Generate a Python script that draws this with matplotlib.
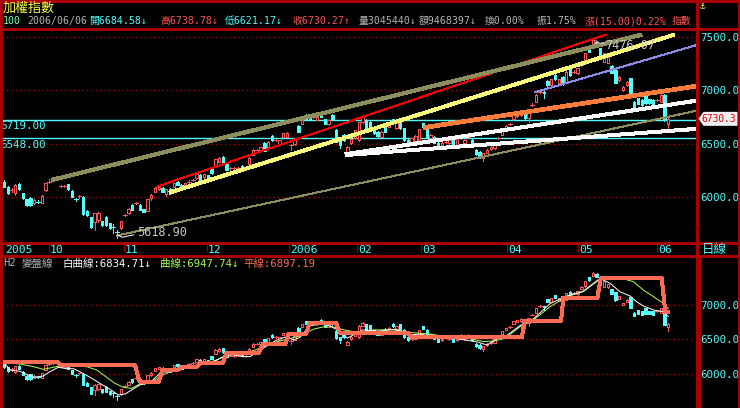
import matplotlib
matplotlib.use('Agg')
import matplotlib.pyplot as plt
from matplotlib.patches import Rectangle, Polygon
from matplotlib.collections import LineCollection

# ---------------- data ----------------
opens = [6143, 6097, 6063, 6034, 6118, 6034, 5978, 5994, 5941, 5958,
         5947, 6065, 6140, 6157, 6166, 6100, 6103, 6118, 6059, 5982,
         6008, 6003, 5872, 5810, 5770, 5785, 5776, 5816, 5754, 5724,
         5677, 5713, 5831, 5847, 5925, 5940, 5925, 5888, 5869, 5988,
         6050, 6078, 6087, 6028, 6072, 6097, 6143, 6112, 6090, 6142,
         6158, 6175, 6206, 6184, 6206, 6259, 6290, 6330, 6377, 6308,
         6267, 6267, 6273, 6290, 6267, 6308, 6393, 6438, 6439, 6508,
         6464, 6570, 6532, 6495, 6564, 6564, 6478, 6495, 6667, 6682,
         6766, 6751, 6744, 6720, 6782, 6726, 6682, 6766, 6626, 6533,
         6580, 6424, 6502, 6549, 6533, 6700, 6720, 6704, 6633, 6611,
         6564, 6657, 6657, 6726, 6642, 6720, 6642, 6533, 6502, 6508,
         6533, 6689, 6642, 6549, 6564, 6508, 6486, 6516, 6502, 6533,
         6486, 6557, 6502, 6557, 6533, 6440, 6424, 6362, 6415, 6446,
         6455, 6548, 6580, 6642, 6679, 6726, 6757, 6767, 6782, 6735,
         6859, 6891, 6984, 6985, 7088, 7047, 7140, 7063, 7125, 7078,
         7193, 7171, 7156, 7234, 7274, 7405, 7421, 7452, 7390, 7265,
         7256, 7225, 7187, 7094, 7000, 7047, 7109, 6891, 6922, 6907,
         6954, 6913, 6907, 6906, 6891, 6954, 6684.58]
highs = [6160, 6105, 6080, 6120, 6130, 6040, 5985, 6000, 5985, 5975,
         6020, 6135, 6165, 6170, 6175, 6110, 6112, 6122, 6062, 5995,
         6020, 6005, 5880, 5812, 5850, 5860, 5780, 5822, 5760, 5745,
         5690, 5780, 5845, 5895, 5930, 5955, 5932, 5892, 5985, 6025,
         6090, 6100, 6095, 6076, 6080, 6132, 6150, 6118, 6132, 6158,
         6172, 6220, 6212, 6215, 6210, 6265, 6356, 6375, 6382, 6312,
         6285, 6280, 6285, 6295, 6280, 6372, 6445, 6450, 6470, 6512,
         6522, 6575, 6545, 6536, 6600, 6605, 6495, 6552, 6675, 6725,
         6772, 6756, 6760, 6756, 6790, 6730, 6724, 6772, 6632, 6538,
         6585, 6475, 6544, 6630, 6705, 6750, 6726, 6710, 6638, 6615,
         6615, 6662, 6678, 6732, 6700, 6726, 6648, 6538, 6554, 6575,
         6638, 6694, 6648, 6585, 6570, 6512, 6512, 6530, 6538, 6538,
         6544, 6580, 6538, 6575, 6538, 6445, 6428, 6412, 6444, 6475,
         6506, 6565, 6630, 6671, 6695, 6771, 6786, 6808, 6788, 6816,
         6875, 6958, 7000, 6992, 7094, 7105, 7146, 7105, 7130, 7176,
         7198, 7185, 7207, 7270, 7348, 7412, 7476.07, 7460, 7396, 7348,
         7310, 7230, 7192, 7135, 7036, 7083, 7114, 6897, 6928, 6912,
         6960, 6918, 6912, 6920, 6958, 6960, 6738.78]
lows = [6090, 6030, 6050, 6019, 6070, 5980, 5918, 5916, 5935, 5945,
        5940, 6060, 6130, 6150, 6158, 6095, 6096, 6070, 5998, 5960,
        5995, 5835, 5820, 5710, 5692, 5770, 5730, 5732, 5700, 5667,
        5618.90, 5700, 5820, 5840, 5875, 5930, 5875, 5858, 5865, 5975,
        6045, 6070, 6045, 6010, 6030, 6092, 6108, 6068, 6085, 6130,
        6150, 6170, 6150, 6180, 6180, 6218, 6285, 6325, 6310, 6248,
        6255, 6250, 6262, 6255, 6260, 6302, 6388, 6428, 6435, 6428,
        6460, 6528, 6520, 6490, 6560, 6560, 6440, 6490, 6605, 6678,
        6720, 6715, 6735, 6715, 6745, 6678, 6676, 6715, 6512, 6455,
        6528, 6418, 6498, 6545, 6520, 6695, 6636, 6620, 6590, 6565,
        6558, 6606, 6650, 6684, 6636, 6636, 6528, 6480, 6495, 6500,
        6528, 6652, 6558, 6544, 6502, 6460, 6480, 6505, 6498, 6466,
        6480, 6545, 6498, 6548, 6480, 6397, 6366, 6340, 6410, 6440,
        6450, 6540, 6575, 6638, 6670, 6720, 6752, 6760, 6730, 6700,
        6850, 6885, 6970, 6923, 7042, 7040, 7095, 7058, 7050, 7072,
        7135, 7160, 7150, 7228, 7268, 7355, 7415, 7400, 7312, 7258,
        7250, 7156, 7064, 7088, 6994, 7040, 6955, 6840, 6865, 6855,
        6870, 6870, 6855, 6895, 6885, 6710, 6621.17]
closes = [6097, 6041, 6066, 6112, 6075, 5988, 5925, 5925, 5972, 5957,
          6013, 6128, 6143, 6159, 6165, 6103, 6104, 6078, 6003, 5981,
          6009, 5841, 5832, 5717, 5847, 5854, 5738, 5738, 5707, 5723,
          5676, 5776, 5832, 5888, 5879, 5941, 5879, 5863, 5981, 6019,
          6081, 6097, 6050, 6072, 6034, 6128, 6112, 6072, 6128, 6143,
          6159, 6215, 6153, 6212, 6184, 6221, 6352, 6368, 6315, 6252,
          6268, 6268, 6274, 6259, 6268, 6368, 6439, 6439, 6464, 6433,
          6517, 6533, 6533, 6533, 6595, 6601, 6482, 6548, 6611, 6720,
          6726, 6720, 6745, 6751, 6751, 6682, 6720, 6720, 6517, 6486,
          6533, 6470, 6539, 6626, 6700, 6745, 6642, 6626, 6595, 6570,
          6611, 6611, 6673, 6689, 6695, 6642, 6533, 6486, 6549, 6570,
          6633, 6657, 6564, 6580, 6508, 6465, 6508, 6517, 6533, 6471,
          6539, 6558, 6533, 6558, 6486, 6402, 6371, 6408, 6440, 6471,
          6502, 6549, 6626, 6667, 6680, 6767, 6782, 6804, 6735, 6813,
          6860, 6954, 6985, 6970, 7047, 7100, 7100, 7100, 7056, 7172,
          7140, 7172, 7203, 7265, 7343, 7359, 7467, 7405, 7318, 7343,
          7305, 7162, 7069, 7125, 7031, 7078, 6960, 6845, 6870, 6860,
          6876, 6876, 6860, 6907, 6954, 6715.27, 6730.27]

month_ticks = [11.9, 31.8, 53.8, 75.5, 93.5, 110.5, 133.3, 152.1, 173.0]
month_labels = ['10', '11', '12', '2006', '02', '03', '04', '05', '06']
first_label = '2005'

main_ticks = [6000, 6500, 7000, 7500]
main_minor = [5750, 6250, 6750, 7250]
sub_ticks = [6000, 6500, 7000]
h_levels = [6719.00, 6548.00]

# trend lines: (index, price) end points
olive_x, olive_y = [12.6, 169.0], [6159, 7517]
yellow_x, yellow_y = [43.8, 177.6], [6041, 7517]
red_x, red_y = [40.5, 159.4], [6097, 7517]
lav_x, lav_y = [140.7, 183.6], [6979, 7421]
orange_x, orange_y = [111.1, 183.6], [6648, 7037]
whiteA_x, whiteA_y = [90.4, 183.6], [6399, 6901]
whiteB_x, whiteB_y = [90.4, 183.6], [6392, 6637]
thin_x, thin_y = [30.0, 183.6], [5640, 6807]

# lower panel curves
flat_x = [0, 14, 15, 34.7, 35.9, 41, 42, 46, 47, 51, 52, 58, 59, 67.5, 68.5,
          74.5, 75.5, 80, 81, 88, 89, 107, 108, 137.2, 138, 147.6, 148.2,
          157.2, 158.1, 174.3, 175.2, 176]
flat_y = [6178, 6178, 6130, 6130, 5889, 5889, 6058, 6058, 6097, 6097, 6164,
          6164, 6309, 6309, 6430, 6430, 6580, 6580, 6740, 6740, 6600, 6600,
          6532, 6532, 6772, 6772, 7097, 7097, 7387, 7387, 6903, 6897.19]
white_x = [0.3, 1.6, 4.2, 7.8, 10.4, 12.2, 14.4, 16.6, 18.4, 20.1, 22.8, 25.4,
           28.1, 30.3, 32.1, 33.8, 36.0, 38.7, 41.3, 44.0, 46.6, 49.3, 51.9,
           55.5, 59.0, 60.8, 63.4, 65.2, 67.8, 69.6, 72.3, 74.9, 76.7, 78.4,
           81, 85, 88, 91, 95, 99, 104, 107, 110, 115, 120, 125, 128, 131,
           132.8, 136.7, 140.3, 144.7, 149.1, 153.5, 157.9, 160.6, 163.2,
           165.9, 167.6, 169.4, 172.1, 174.7, 176]
white_y = [6145, 6058, 6040, 5952, 5971, 6034, 6097, 6077, 6077, 6034, 5952,
           5865, 5778, 5696, 5710, 5768, 5841, 5874, 6010, 6058, 6068, 6097,
           6145, 6179, 6275, 6275, 6251, 6251, 6348, 6406, 6493, 6541, 6493,
           6531, 6700, 6730, 6650, 6520, 6640, 6620, 6650, 6560, 6580, 6530,
           6510, 6470, 6420, 6520, 6540, 6700, 6800, 7020, 7130, 7200, 7386,
           7314, 7193, 7130, 7048, 6986, 6928, 6903, 6834.71]
green_x = [0.3, 4.2, 7.8, 10.4, 13.1, 14.8, 18.4, 21.9, 24.6, 27.2, 29.4, 31.6,
           33.8, 36.0, 38.7, 41.3, 44.0, 46.6, 50.2, 53.7, 56.4, 59.0, 62.5,
           66.1, 68.7, 71.4, 74.9, 78.4, 82, 86, 90, 94, 98, 103, 108, 113,
           118, 123, 127, 130, 132.8, 136.7, 140.3, 144.7, 149.1, 153.5, 157.0,
           158.8, 164.6, 166.8, 169.4, 172.1, 174.7, 176]
green_y = [6164, 6145, 6106, 6068, 6097, 6116, 6116, 6106, 6058, 5952, 5865,
           5807, 5792, 5855, 5874, 5961, 6034, 6077, 6106, 6164, 6203, 6275,
           6300, 6338, 6396, 6454, 6502, 6551, 6650, 6700, 6640, 6600, 6640,
           6640, 6600, 6580, 6530, 6520, 6470, 6480, 6517, 6686, 6783, 6976,
           7121, 7193, 7338, 7386, 7372, 7338, 7217, 7121, 7024, 6947.74]

date_str = '2006/06/06'
volume = '3045440'
amount = '9468397'
turnover = '0.00'

# ---------------- styling ----------------
W, H = 740, 408
PX = 0.72
CYAN = '#54FCFC'; RED = '#FC5454'; YEL = '#FCFC54'; GREY = '#B4B4B4'
DRED = '#A80000'; WHITE = '#FCFCFC'; GREEN = '#A8FC54'; SALMON = '#FC6C54'
MONO = ['DejaVu Sans Mono', 'Noto Sans CJK TC']
CJK = ['Noto Sans CJK TC', 'DejaVu Sans']
BW = 0.62

fig = plt.figure(figsize=(W / 100, H / 100), dpi=100, facecolor='black')


def rect(x0, y0, x1, y1):
    return [x0 / W, 1 - y1 / H, (x1 - x0) / W, (y1 - y0) / H]


X0, DX = 4.0, 3.774


def idx_at(px):
    return (px - X0) / DX


XL = (idx_at(1.5), idx_at(697.3))


def draw_candles(a, tol):
    segs_r, segs_c = [], []
    for i, (o, h, l, c) in enumerate(zip(opens, highs, lows, closes)):
        up = c >= o
        lo_b, hi_b = min(o, c), max(o, c)
        segs = segs_r if up else segs_c
        if hi_b - lo_b < tol:
            segs.append([(i, l), (i, h)])
            segs.append([(i - 0.5, c), (i + 0.5, c)])
            continue
        if h > hi_b:
            segs.append([(i, hi_b), (i, h)])
        if l < lo_b:
            segs.append([(i, l), (i, lo_b)])
        if up:
            a.add_patch(Rectangle((i - BW / 2, lo_b), BW, hi_b - lo_b, fc='black',
                                  ec=RED, lw=PX, antialiased=False, zorder=3))
        else:
            a.add_patch(Rectangle((i - BW / 2, lo_b), BW, hi_b - lo_b, fc=CYAN,
                                  ec=CYAN, lw=PX, antialiased=False, zorder=3))
    a.add_collection(LineCollection(segs_r, colors=RED, linewidths=PX,
                                    antialiaseds=False, zorder=3))
    a.add_collection(LineCollection(segs_c, colors=CYAN, linewidths=PX,
                                    antialiaseds=False, zorder=3))


def style_axes(a, ticks, minor=None):
    a.set_facecolor('black')
    for s in a.spines.values():
        s.set_visible(False)
    a.set_xlim(XL)
    a.set_xticks([])
    a.yaxis.tick_right()
    a.set_yticks(ticks)
    a.set_yticklabels([f'{v:.1f}' for v in ticks], family=MONO)
    a.tick_params(axis='y', which='major', length=0, pad=2.2, labelcolor=CYAN,
                  labelsize=7.8)
    if minor:
        a.set_yticks(minor, minor=True)
        a.tick_params(axis='y', which='minor', length=2.2, color=DRED, width=PX)
    for v in ticks:
        a.axhline(v, color=DRED, lw=1.0, ls=(0, (1, 2.2)), zorder=1)


# ---------------- main panel ----------------
ax = fig.add_axes(rect(1.5, 29, 697.3, 242.5))
ax.set_ylim(6000 - (242.5 - 197) / 0.107, 6000 + (197 - 29) / 0.107)
style_axes(ax, main_ticks, main_minor)

for v in h_levels:
    ax.axhline(v, color=CYAN, lw=1.4 * PX, zorder=2)
    ax.annotate(f'{v:.2f}', xy=(0, v), xycoords=('axes fraction', 'data'),
                xytext=(-1.0, -1.0), textcoords='offset points', va='top',
                ha='left', color=CYAN, fontsize=7.8, family=MONO)

draw_candles(ax, 9)

ax.plot(thin_x, thin_y, color='#8E8E5C', lw=PX, zorder=4, antialiased=False)
ax.plot(red_x, red_y, color='#F00000', lw=PX, zorder=4, antialiased=False)
ax.plot(lav_x, lav_y, color='#8C8CE8', lw=PX, zorder=4, antialiased=False)
ax.plot(olive_x, olive_y, color='#8E8E5C', lw=3.2 * PX, zorder=4,
        solid_capstyle='butt', antialiased=False)
ax.plot(yellow_x, yellow_y, color='#FCFC7C', lw=3 * PX, zorder=5,
        solid_capstyle='butt', antialiased=False)
ax.plot(orange_x, orange_y, color='#FC7C3C', lw=3.6 * PX, zorder=5,
        solid_capstyle='butt', antialiased=False)
ax.plot(whiteA_x, whiteA_y, color=WHITE, lw=3 * PX, zorder=5,
        solid_capstyle='butt', antialiased=False)
ax.plot(whiteB_x, whiteB_y, color=WHITE, lw=3 * PX, zorder=5,
        solid_capstyle='butt', antialiased=False)

lo_i = lows.index(min(lows))
hi_i = highs.index(max(highs))
ax.plot([lo_i, lo_i + 1.3, lo_i + 4.4], [min(lows) + 25, min(lows) + 5, min(lows) + 28],
        color=WHITE, lw=PX, zorder=5)
ax.text(lo_i + 5.2, min(lows) + 52, f'{min(lows):.2f}', color='#C8C8C8',
        fontsize=8.6, family=MONO, va='center', ha='left', zorder=6)
ax.plot([hi_i + 0.8, hi_i + 2.0, hi_i + 3.2], [max(highs) - 14, max(highs) - 44, max(highs) - 38],
        color='#C8C8C8', lw=PX, zorder=5)
ax.text(hi_i + 3.4, max(highs) - 56, f'{max(highs):.2f}', color='#C8C8C8',
        fontsize=8.6, family=MONO, va='center', ha='left', zorder=6)

# ---------------- date strip ----------------
axd = fig.add_axes(rect(1.5, 242.5, 697.3, 256))
axd.set_facecolor('black')
axd.set_xlim(XL)
axd.set_ylim(256, 242.5)
axd.axis('off')
axd.vlines(month_ticks, 243.3, 251.7, color=DRED, lw=PX)
axd.text(XL[0] + 0.9, 249.6, first_label, color=CYAN, fontsize=8.2, family=MONO,
         va='center', ha='left')
for t, s in zip(month_ticks, month_labels):
    axd.text(t + 0.25, 249.6, s, color=CYAN, fontsize=8.2, family=MONO,
             va='center', ha='left')

# ---------------- lower panel ----------------
ax2 = fig.add_axes(rect(1.5, 257, 697.3, 408))
ax2.set_ylim(7000 - (408 - 305) / 0.069, 7000 + (305 - 257) / 0.069)
style_axes(ax2, sub_ticks)
draw_candles(ax2, 14)
ax2.plot(green_x, green_y, color=GREEN, lw=PX, zorder=5)
ax2.plot(white_x, white_y, color=WHITE, lw=PX, zorder=5)
ax2.plot(flat_x, flat_y, color=SALMON, lw=3 * PX, zorder=6, antialiased=False)

# ---------------- overlay: frame & header ----------------
ov = fig.add_axes([0, 0, 1, 1])
ov.set_xlim(0, W)
ov.set_ylim(H, 0)
ov.axis('off')
ov.patch.set_alpha(0)

for (x0, y0, x1, y1) in [(0, 0.5, W, 0.5), (0, 28.7, W, 28.7), (0, 242.7, W, 242.7),
                         (0, 256, W, 256), (0.8, 0, 0.8, H), (697.3, 0, 697.3, H),
                         (738.5, 0, 738.5, H), (698.6, 256, 698.6, H)]:
    ov.plot([x0, x1], [y0, y1], color=DRED, lw=1.3 * PX, antialiased=False)

ov.text(3, 8, '加權指數', color=YEL, fontsize=9.4, family=CJK, va='center', ha='left')

o, h, l, c = opens[-1], highs[-1], lows[-1], closes[-1]
prev = closes[-2]
chg = c - prev
row2 = [
    (3, '100', '#7CFCB4'),
    (27, date_str, GREY),
    (89, f'開{o:.2f}↓', CYAN),
    (160, f'高{h:.2f}↓', RED),
    (225, f'低{l:.2f}↓', CYAN),
    (292, f'收{c:.2f}↑', RED),
    (359, f'量{volume}↓', GREY),
    (419, f'額{amount}↓', GREY),
    (485, f'換{turnover}%', GREY),
    (537, f'振{(h - l) / prev * 100:.2f}%', GREY),
    (585, f'漲({chg:.2f}){chg / prev * 100:.2f}%', RED),
    (672, '指數', RED),
]
for x, s, col in row2:
    ov.text(x, 21, s, color=col, fontsize=7.1, family=MONO, va='center', ha='left')

ov.text(702, 6.5, '⚓', color=YEL, fontsize=6, family=['DejaVu Sans'], va='center', ha='center')
ov.text(702, 249.5, '日線', color=CYAN, fontsize=9, family=CJK, va='center', ha='left')

row3 = [
    (3, 'H2', GREY),
    (22, '變盤線', GREY),
    (63, f'白曲線:{white_y[-1]:.2f}↓', WHITE),
    (160, f'曲線:{green_y[-1]:.2f}↓', GREEN),
    (243, f'平線:{flat_y[-1]:.2f}', SALMON),
]
for x, s, col in row3:
    ov.text(x, 263.5, s, color=col, fontsize=7.6, family=MONO, va='center', ha='left')

# current price marker
yd = ax.transData.transform((0, closes[-1]))[1]
yp = H - yd
ov.add_patch(Polygon([(698.5, yp), (703.5, yp - 7), (737.5, yp - 7), (737.5, yp + 7), (703.5, yp + 7)],
                     closed=True, fc='#F0F0F0', ec='none', zorder=10))
ov.text(701.5, yp + 0.5, f'{closes[-1]:.1f}', color='#E00000', fontsize=6.9, family=MONO,
        va='center', ha='left', zorder=11)

fig.savefig('out.png', dpi=100, facecolor='black')
